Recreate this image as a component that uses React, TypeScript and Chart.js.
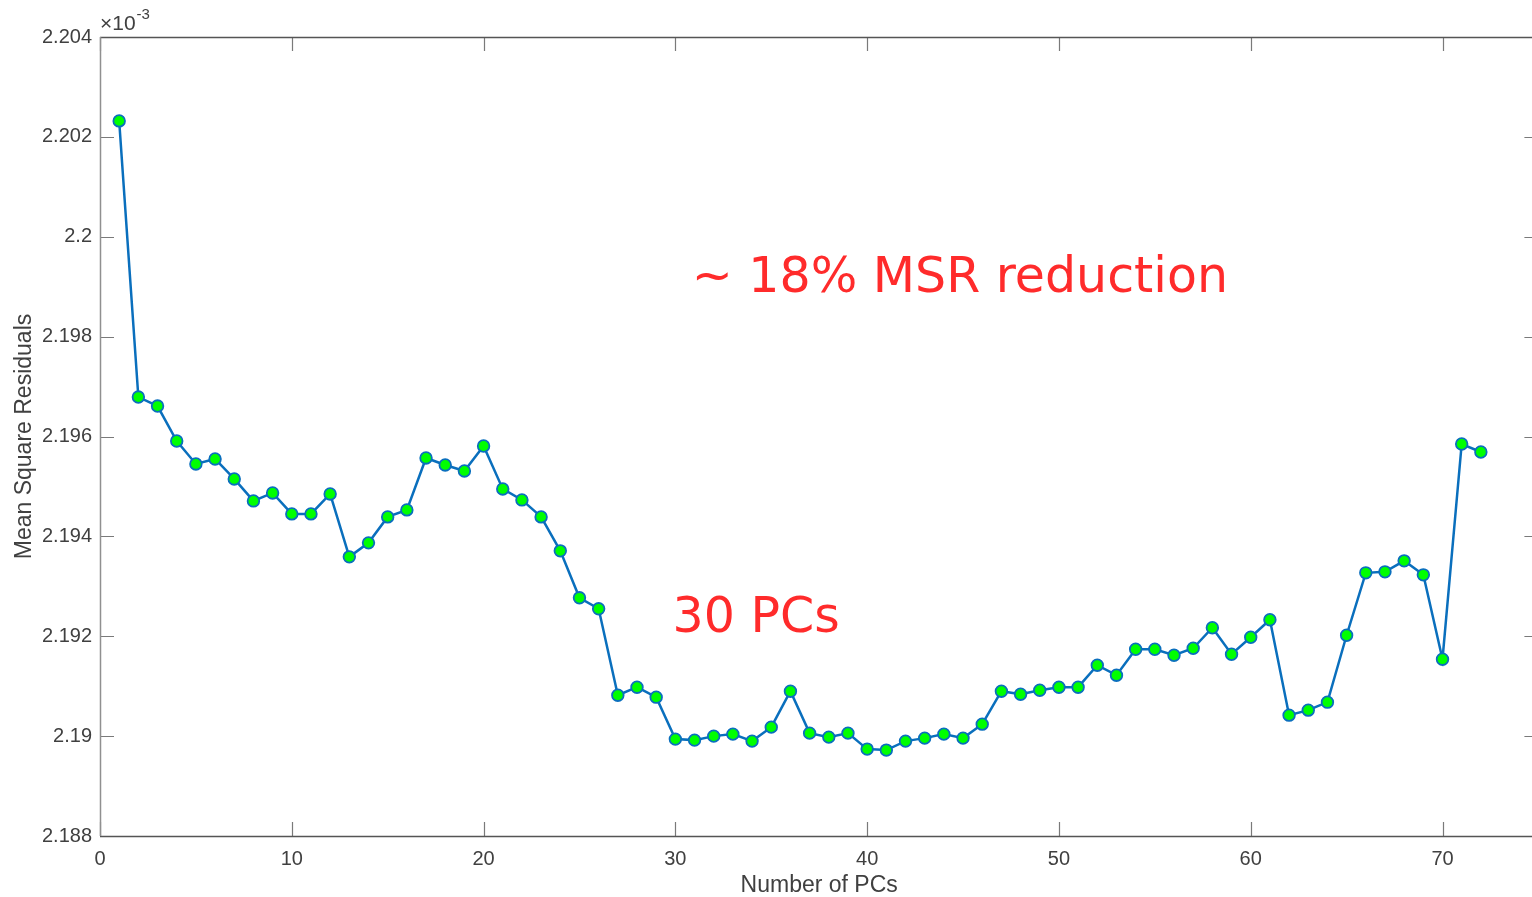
import React, { useEffect, useRef } from "react";
import { Chart, registerables } from "chart.js";

Chart.register(...registerables);

const pcCounts: number[] = Array.from({ length: 72 }, (_, i) => i + 1);

// Mean square residuals (x 1e-3)
const msrValues: number[] = [
  2.20232, 2.19679, 2.19661, 2.19591, 2.19545, 2.19555, 2.19515, 2.19471, 2.19487, 2.19445,
  2.19445, 2.19485, 2.19359, 2.19387, 2.19439, 2.19453, 2.19557, 2.19543, 2.19531, 2.19581,
  2.19495, 2.19473, 2.19439, 2.19371, 2.19277, 2.19255, 2.19082, 2.19098, 2.19078, 2.18994,
  2.18992, 2.19000, 2.19004, 2.18990, 2.19018, 2.19090, 2.19006, 2.18998, 2.19006, 2.18974,
  2.18972, 2.18990, 2.18996, 2.19004, 2.18996, 2.19024, 2.19090, 2.19084, 2.19092, 2.19098,
  2.19098, 2.19142, 2.19122, 2.19174, 2.19174, 2.19162, 2.19176, 2.19217, 2.19164, 2.19198,
  2.19233, 2.19042, 2.19052, 2.19068, 2.19202, 2.19327, 2.19329, 2.19351, 2.19323, 2.19154,
  2.19585, 2.19569,
];

const xTickValues: number[] = [0, 10, 20, 30, 40, 50, 60, 70];
const yTickValues: number[] = [2.188, 2.19, 2.192, 2.194, 2.196, 2.198, 2.2, 2.202, 2.204];

const annotations = [
  { text: "~ 18% MSR reduction", x: 30.85, y: 2.19889 },
  { text: "30 PCs", x: 29.85, y: 2.19208 },
];

const AXIS_FONT = "'Liberation Sans', Arial, Helvetica, sans-serif";

const boxPlugin = {
  id: "matlabBox",
  afterDraw(chart: any) {
    const { ctx, chartArea } = chart;
    const xs = chart.scales.x;
    const ys = chart.scales.y;
    const { left, right, top, bottom } = chartArea;
    const tl = 14;
    ctx.save();
    // ticks (inward, all four sides)
    ctx.strokeStyle = "#7a7a7a";
    ctx.lineWidth = 1.2;
    ctx.beginPath();
    xTickValues.forEach((v) => {
      const px = Math.round(xs.getPixelForValue(v)) + 0.5;
      ctx.moveTo(px, bottom);
      ctx.lineTo(px, bottom - tl);
      ctx.moveTo(px, top);
      ctx.lineTo(px, top + tl);
    });
    yTickValues.forEach((v) => {
      const py = Math.round(ys.getPixelForValue(v)) + 0.5;
      ctx.moveTo(left, py);
      ctx.lineTo(left + tl, py);
      ctx.moveTo(right, py);
      ctx.lineTo(right - tl, py);
    });
    ctx.stroke();
    // box
    ctx.lineWidth = 1.5;
    ctx.strokeStyle = "#555555";
    ctx.beginPath();
    ctx.moveTo(left, top + 0.5);
    ctx.lineTo(right, top + 0.5);
    ctx.moveTo(left, bottom + 0.5);
    ctx.lineTo(right, bottom + 0.5);
    ctx.stroke();
    ctx.strokeStyle = "#909090";
    ctx.beginPath();
    ctx.moveTo(left + 0.5, top);
    ctx.lineTo(left + 0.5, bottom);
    ctx.moveTo(right - 0.5, top);
    ctx.lineTo(right - 0.5, bottom);
    ctx.stroke();

    // exponent
    ctx.fillStyle = "#404040";
    ctx.textBaseline = "alphabetic";
    ctx.textAlign = "left";
    ctx.font = `21px ${AXIS_FONT}`;
    ctx.fillText("\u00d710", left, top - 7);
    const w = ctx.measureText("\u00d710").width;
    ctx.font = `15px ${AXIS_FONT}`;
    ctx.fillText("-3", left + w + 1, top - 18);

    // annotations
    ctx.fillStyle = "#ff2b2b";
    ctx.font = "49px 'DejaVu Sans', Verdana, sans-serif";
    annotations.forEach((a) => {
      ctx.fillText(a.text, xs.getPixelForValue(a.x), ys.getPixelForValue(a.y));
    });
    ctx.restore();
  },
};

export default function App() {
  const canvasRef = useRef<HTMLCanvasElement | null>(null);

  useEffect(() => {
    document.body.style.margin = "0";
    document.body.style.overflow = "hidden";
    const canvas = canvasRef.current;
    if (!canvas) return;
    const points = pcCounts.map((x, i) => ({ x, y: msrValues[i] }));
    const chart = new Chart(canvas, {
      type: "line",
      data: {
        datasets: [
          {
            data: points,
            borderColor: "#0a6fbd",
            borderWidth: 2.5,
            pointBackgroundColor: "#00ff00",
            pointBorderColor: "#0a6fbd",
            pointBorderWidth: 1.8,
            pointRadius: 5.8,
            tension: 0,
            fill: false,
          },
        ],
      },
      options: {
        animation: false,
        responsive: false,
        devicePixelRatio: 1,
        parsing: false as any,
        layout: { padding: { top: 37, right: 5, left: 0, bottom: 0 } },
        plugins: {
          legend: { display: false },
          tooltip: { enabled: false },
        },
        scales: {
          x: {
            type: "linear",
            min: 0,
            max: 75,
            grid: { display: false },
            border: { display: false },
            afterFit: (s: any) => {
              s.height = 61;
            },
            ticks: {
              stepSize: 10,
              includeBounds: false,
              padding: 3,
              color: "#404040",
              maxRotation: 0,
              font: { family: AXIS_FONT, size: 20 },
            },
            title: {
              display: true,
              text: "Number of PCs",
              color: "#404040",
              font: { family: AXIS_FONT, size: 23 },
              padding: { top: 0, bottom: -2 },
            },
          },
          y: {
            type: "linear",
            min: 2.188,
            max: 2.204,
            grid: { display: false },
            border: { display: false },
            afterFit: (s: any) => {
              s.width = 100;
            },
            ticks: {
              stepSize: 0.002,
              includeBounds: false,
              padding: 0,
              color: "#404040",
              font: { family: AXIS_FONT, size: 20 },
              callback: (v: any) => String(+Number(v).toFixed(3)),
            },
            title: {
              display: true,
              text: "Mean Square Residuals",
              color: "#404040",
              font: { family: AXIS_FONT, size: 23 },
              padding: { top: 11, bottom: 0 },
            },
          },
        },
      },
      plugins: [boxPlugin],
    });
    return () => chart.destroy();
  }, []);

  return (
    <div style={{ position: "fixed", left: 0, top: 0, width: 1532, height: 897, overflow: "hidden", background: "#fff" }}>
      <canvas ref={canvasRef} width={1546} height={897} style={{ width: 1546, height: 897, display: "block" }} />
    </div>
  );
}
